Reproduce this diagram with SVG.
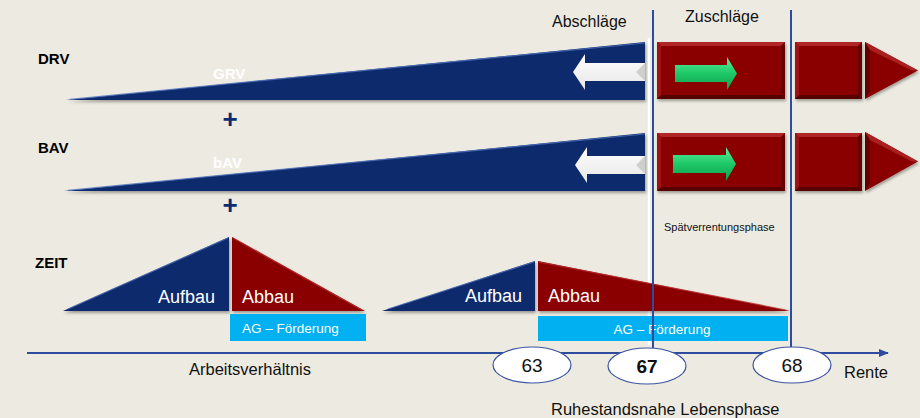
<svg xmlns="http://www.w3.org/2000/svg" width="920" height="418" viewBox="0 0 920 418">
<defs>
<style>
text{font-family:"Liberation Sans",Arial,sans-serif}
.lbl{font-size:15px;font-weight:bold;fill:#000}
.wl{font-size:15px;font-weight:bold;fill:#fff}
.plus{font-size:26px;font-weight:bold;fill:#0F2B6E}
.tri{font-size:18px;fill:#fff}
.ag{font-size:13.5px;fill:#fff}
.hd{font-size:16px;fill:#111}
.ax{font-size:16.5px;fill:#111}
.num{font-size:19px;fill:#111}
.blue{fill:#0E2A6C}
.red{fill:#8A0303}
.bt{fill:#B02626}
.bl{fill:#9E1414}
.bb{fill:#560000}
.br{fill:#640000}
.vline{stroke:#2E4C9E;stroke-width:2;fill:none}
.ell{fill:#fff;stroke:#3A55A0;stroke-width:1.2}
.cyan{fill:#00B0F0}
</style>
<filter id="sh" x="-5%" y="-20%" width="110%" height="150%"><feDropShadow dx="1" dy="2" stdDeviation="1.5" flood-color="#000" flood-opacity="0.35"/></filter>
<linearGradient id="gw" x1="0" y1="0" x2="0" y2="1"><stop offset="0" stop-color="#ffffff"/><stop offset="1" stop-color="#E6E6E6"/></linearGradient>
<linearGradient id="gg" x1="0" y1="0" x2="0" y2="1"><stop offset="0" stop-color="#5CF0A0"/><stop offset="0.5" stop-color="#1EC866"/><stop offset="1" stop-color="#0E9E4C"/></linearGradient>
<marker id="ah" markerWidth="10" markerHeight="8" refX="9" refY="4" orient="auto" markerUnits="userSpaceOnUse"><path d="M0,0 L10,4 L0,8 z" fill="#2E4C9E"/></marker>
</defs>
<rect width="920" height="418" fill="#EDEBE1"/>

<g id="divider-white"><line x1="649" y1="38" x2="649" y2="345" stroke="#ffffff" stroke-width="2.5"/></g>

<g id="drv">
<text class="lbl" x="38" y="64">DRV</text>
<polygon class="blue" filter="url(#sh)" points="66,100 645,42 645,100"/>
<line x1="70" y1="99.3" x2="645" y2="43" stroke="#5072BE" stroke-width="1.2" opacity="0.8"/>
<text class="wl" x="213" y="79">GRV</text>
<polygon fill="url(#gw)" points="573,72 585,54 585,63 645,63 645,81 585,81 585,90"/>
<polygon fill="#CFCFCF" points="645,63 645,81 636,72"/>
</g>
<text class="plus" x="230" y="128" text-anchor="middle">+</text>

<g id="bav">
<text class="lbl" x="38" y="153">BAV</text>
<polygon class="blue" filter="url(#sh)" points="64,191 645,133 645,191"/>
<line x1="68" y1="190.3" x2="645" y2="134" stroke="#5072BE" stroke-width="1.2" opacity="0.8"/>
<text class="wl" x="213" y="168">bAV</text>
<polygon fill="url(#gw)" points="575,165 587,147 587,156 645,156 645,174 587,174 587,183"/>
<polygon fill="#CFCFCF" points="645,156 645,174 636,165"/>
</g>
<text class="plus" x="230" y="214" text-anchor="middle">+</text>

<g id="drv-zuschlag">
<rect class="red" x="657" y="42" width="128" height="57" filter="url(#sh)"/>
<polygon class="bt" points="657,42 785,42 781,46 661,46"/>
<polygon class="bl" points="657,42 661,46 661,95 657,99"/>
<polygon class="bb" points="657,99 661,95 781,95 785,99"/>
<polygon class="br" points="785,42 785,99 781,95 781,46"/>
<polygon fill="url(#gg)" points="675,65 727,65 727,57 737,73.5 727,90 727,82 675,82"/>
</g>
<g id="drv-rente">
<rect class="red" x="795" y="42" width="67" height="57" filter="url(#sh)"/>
<polygon class="bt" points="795,42 862,42 858,46 799,46"/>
<polygon class="bl" points="795,42 799,46 799,95 795,99"/>
<polygon class="bb" points="795,99 799,95 858,95 862,99"/>
<polygon class="br" points="862,42 862,99 858,95 858,46"/>
<polygon class="red" filter="url(#sh)" points="865,42 918,70.5 865,99"/>
<polygon fill="#5E0000" points="865,42 870,50 870,91 865,99"/>
<polygon fill="#A82020" points="865,42 918,70.5 912,70.5 870,50"/>
</g>

<g id="bav-zuschlag">
<rect class="red" x="657" y="133" width="128" height="58" filter="url(#sh)"/>
<polygon class="bt" points="657,133 785,133 781,137 661,137"/>
<polygon class="bl" points="657,133 661,137 661,187 657,191"/>
<polygon class="bb" points="657,191 661,187 781,187 785,191"/>
<polygon class="br" points="785,133 785,191 781,187 781,137"/>
<polygon fill="url(#gg)" points="673,155 726,155 726,147 736,164 726,181 726,173 673,173"/>
</g>
<g id="bav-rente">
<rect class="red" x="795" y="133" width="67" height="58" filter="url(#sh)"/>
<polygon class="bt" points="795,133 862,133 858,137 799,137"/>
<polygon class="bl" points="795,133 799,137 799,187 795,191"/>
<polygon class="bb" points="795,191 799,187 858,187 862,191"/>
<polygon class="br" points="862,133 862,191 858,187 858,137"/>
<polygon class="red" filter="url(#sh)" points="865,132 918,161.5 865,191"/>
<polygon fill="#5E0000" points="865,132 870,140 870,183 865,191"/>
<polygon fill="#A82020" points="865,132 918,161.5 912,161.5 870,140"/>
</g>

<g id="header-labels">
<text class="hd" x="552" y="27">Abschläge</text>
<text class="hd" x="685" y="22">Zuschläge</text>
<text x="664" y="231" style="font-size:11px;fill:#111">Spätverrentungsphase</text>
</g>

<g id="zeit">
<text class="lbl" x="35" y="268">ZEIT</text>
</g>
<g id="zeit-1">
<polygon class="blue" filter="url(#sh)" points="63,311 229,237 229,311"/>
<line x1="68" y1="309" x2="228" y2="238" stroke="#4C6DB8" stroke-width="1.2" opacity="0.8"/>
<text class="tri" x="158" y="303">Aufbau</text>
<polygon class="red" filter="url(#sh)" points="232,237 365,311 232,311"/>
<line x1="233" y1="238" x2="362" y2="310" stroke="#B83030" stroke-width="1.2" opacity="0.8"/>
<text class="tri" x="242" y="303">Abbau</text>
<rect class="cyan" x="230" y="314" width="136" height="27"/>
<text class="ag" x="242" y="333">AG – Förderung</text>
</g>
<g id="zeit-2">
<polygon class="blue" filter="url(#sh)" points="382,311 535,261 535,311"/>
<line x1="388" y1="309" x2="534" y2="262" stroke="#4C6DB8" stroke-width="1.2" opacity="0.8"/>
<text class="tri" x="465" y="302">Aufbau</text>
<polygon class="red" filter="url(#sh)" points="538,261 790,311 538,311"/>
<line x1="539" y1="262" x2="786" y2="310" stroke="#B83030" stroke-width="1.2" opacity="0.8"/>
<text class="tri" x="548" y="302">Abbau</text>
<rect class="cyan" x="538" y="316" width="250" height="25"/>
<text class="ag" x="662" y="334" text-anchor="middle">AG – Förderung</text>
</g>

<g id="connectors">
<line class="vline" x1="653" y1="10" x2="653" y2="348"/>
<line class="vline" x1="791" y1="10" x2="791" y2="348"/>
<line class="vline" x1="27" y1="353" x2="888" y2="353" marker-end="url(#ah)"/>
</g>

<g id="axis-labels">
<text class="ax" x="189" y="375">Arbeitsverhältnis</text>
<text class="ax" x="844" y="378">Rente</text>
<text class="ax" x="551" y="415">Ruhestandsnahe Lebensphase</text>
</g>
<g id="age-63"><ellipse class="ell" cx="532" cy="365" rx="39" ry="18"/><text class="num" x="532" y="372" text-anchor="middle">63</text></g>
<g id="age-67"><ellipse class="ell" cx="647" cy="366" rx="39" ry="18"/><text class="num" x="647" y="373" text-anchor="middle" font-weight="bold">67</text></g>
<g id="age-68"><ellipse class="ell" cx="792" cy="365" rx="39" ry="18"/><text class="num" x="792" y="372" text-anchor="middle">68</text></g>
</svg>
